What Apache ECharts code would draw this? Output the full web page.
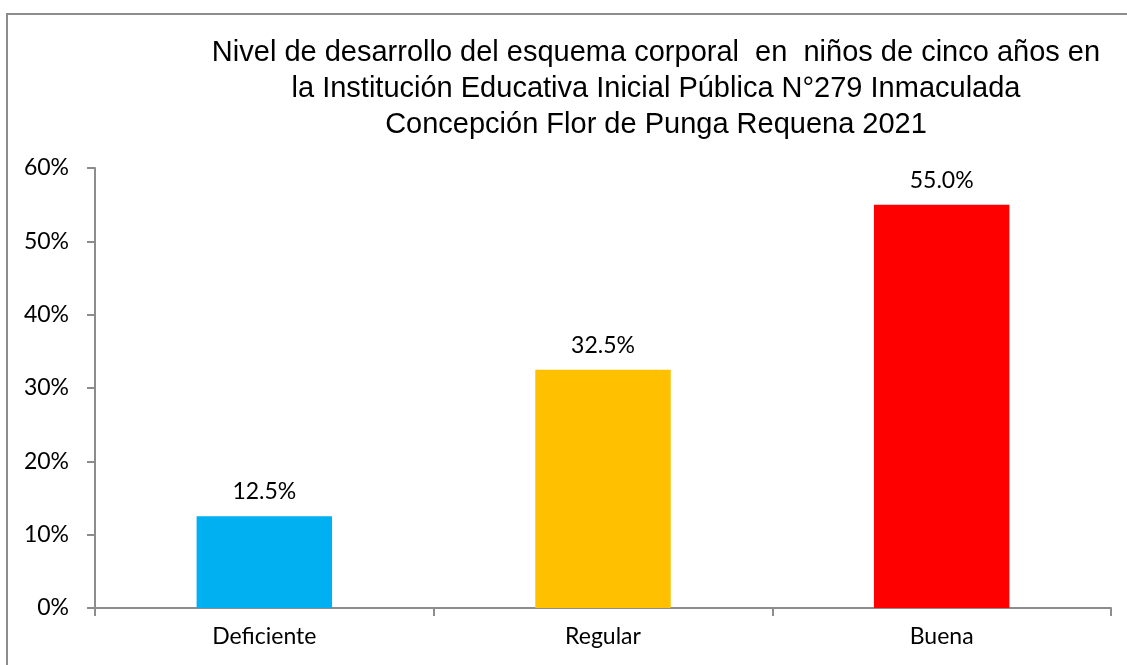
<!DOCTYPE html>
<html>
<head>
<meta charset="utf-8">
<script src="https://cdn.jsdelivr.net/npm/echarts@6/dist/echarts.min.js"></script>
<style>
  html, body { margin: 0; padding: 0; background: #fff; overflow: hidden; }
  .frame { position: absolute; left: 6px; top: 13px; width: 1200px; height: 700px; border: 2px solid #8c8c8c; }
  #chart { position: absolute; left: 0; top: 0; width: 1127px; height: 665px; }
</style>
</head>
<body>
<div class="frame"></div>
<div id="chart"></div>
<script>
const categories = ['Deficiente', 'Regular', 'Buena'];
const values = [12.5, 32.5, 55.0];
const barColors = ['#00b0f0', '#ffc000', '#ff0000'];
const titleText = 'Nivel de desarrollo del esquema corporal  en  niños de cinco años en\nla Institución Educativa Inicial Pública N°279 Inmaculada\nConcepción Flor de Punga Requena 2021';

const axisGray = '#8c8c8c';
const labelFont = 'Lato, "Open Sans", sans-serif';

const chart = echarts.init(document.getElementById('chart'));
chart.setOption({
  animation: false,
  title: {
    text: titleText,
    left: 651,
    top: 30,
    textAlign: 'center',
    textStyle: {
      fontFamily: '"Liberation Sans", Arial, sans-serif',
      fontSize: 29,
      fontWeight: 'normal',
      color: '#000',
      lineHeight: 36,
      align: 'center'
    }
  },
  grid: { left: 95, right: 16, top: 168, bottom: 57 },
  xAxis: {
    type: 'category',
    data: categories,
    axisLine: { lineStyle: { color: axisGray, width: 2 } },
    axisTick: { show: true, length: 8, lineStyle: { color: axisGray, width: 2 } },
    axisLabel: { color: '#000', fontSize: 23, fontFamily: labelFont, margin: 17 }
  },
  yAxis: {
    type: 'value',
    min: 0,
    max: 60,
    interval: 10,
    axisLine: { show: true, lineStyle: { color: axisGray, width: 2 } },
    axisTick: { show: true, length: 8, lineStyle: { color: axisGray, width: 2 } },
    splitLine: { show: false },
    axisLabel: { color: '#000', fontSize: 23, fontFamily: labelFont, margin: 26, formatter: (v) => v + '%' }
  },
  series: [{
    type: 'bar',
    barCategoryGap: '60%',
    data: values.map((v, i) => ({ value: v, itemStyle: { color: barColors[i] } })),
    label: {
      show: true,
      position: 'top',
      distance: 13,
      color: '#000',
      fontSize: 23,
      fontFamily: labelFont,
      formatter: (p) => p.value.toFixed(1) + '%'
    }
  }]
});
</script>
</body>
</html>
